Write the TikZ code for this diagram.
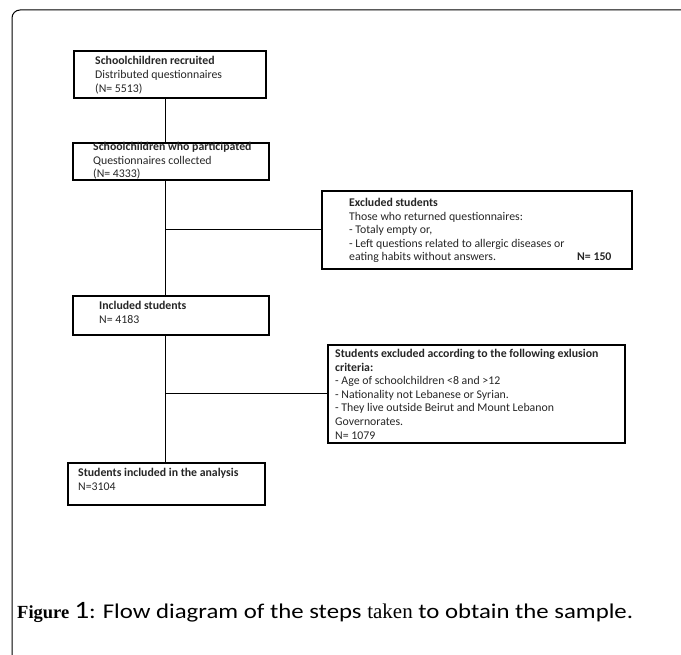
\documentclass[tikz,border=0pt]{standalone}
\usepackage{fontspec}
\setmainfont{Carlito}
\newfontfamily\capserif{Liberation Serif}
\newfontfamily\capsans[FakeStretch=1.18]{Carlito}
\newcommand{\boxlines}[1]{\parbox[t]{330pt}{\raggedright #1}}
\begin{document}
\begin{tikzpicture}[x=1pt,y=-1pt,
  box/.style={draw, line width=1.6pt, inner sep=0pt, anchor=north west},
  txt/.style={anchor=base west, inner sep=0pt, text=black!85, font=\fontsize{11.8}{13.6}\selectfont},
  link/.style={draw, line width=0.8pt}]
\useasboundingbox (0,0) rectangle (681,655);
\fill[white] (0,0) rectangle (681,655);
% outer frame
\draw[line width=1pt, rounded corners=8pt] (12,655) -- (12,10) -- (681,10);

\node[box, minimum width=192pt, minimum height=47pt] (b1) at (73,50) {};
\node[box, minimum width=196pt, minimum height=37pt] (b2) at (72,142) {};
\node[box, minimum width=310pt, minimum height=78pt] (e1) at (321,190) {};
\node[box, minimum width=196pt, minimum height=39pt] (b3) at (72,295) {};
\node[box, minimum width=297pt, minimum height=98pt] (e2) at (327,344) {};
\node[box, minimum width=197pt, minimum height=42pt] (b4) at (67,462) {};

\node[txt] (t1) at (95,65) {\boxlines{\textbf{Schoolchildren recruited}\\Distributed questionnaires\\(N= 5513)}};
\node[txt] (t2) at (93,150.5) {\boxlines{\textbf{Schoolchildren who participated}\\Questionnaires collected\\(N= 4333)}};
\node[txt] (t3) at (349,206.5) {\boxlines{\textbf{Excluded students}\\Those who returned questionnaires:\\- Totaly empty or,\\- Left questions related to allergic diseases or\\eating habits without answers.}};
\node[txt] (t3n) at (577,260.5) {\textbf{N= 150}};
\node[txt] (t4) at (99,309.5) {\boxlines{\textbf{Included students}\\N= 4183}};
\node[txt] (t5) at (335,357.5) {\boxlines{\textbf{Students excluded according to the following exlusion}\\\textbf{criteria:}\\- Age of schoolchildren <8 and >12\\- Nationality not Lebanese or Syrian.\\- They live outside Beirut and Mount Lebanon\\Governorates.\\N= 1079}};
\node[txt] (t6) at (78,476.5) {\boxlines{\textbf{Students included in the analysis}\\N=3104}};

\coordinate (sp) at (165,0);
\draw[link] (b1.south -| sp) -- (b2.north -| sp);
\draw[link] (b2.south -| sp) -- (b3.north -| sp);
\draw[link] (b3.south -| sp) -- (b4.north -| sp);
\draw[link] (sp |- e1.west) -- (e1.west);
\draw[link] (sp |- e2.west) -- (e2.west);

\node[anchor=base west, inner sep=0pt] (cap) at (17,618) {{\capserif\bfseries\fontsize{18.5}{20}\selectfont Figure}\hspace{5pt}{\capsans\fontsize{25}{28}\selectfont 1}{\capsans\fontsize{21}{24}\selectfont :\hspace{7pt}Flow diagram of the steps {\capserif taken} to obtain the sample.}};
\end{tikzpicture}
\end{document}
